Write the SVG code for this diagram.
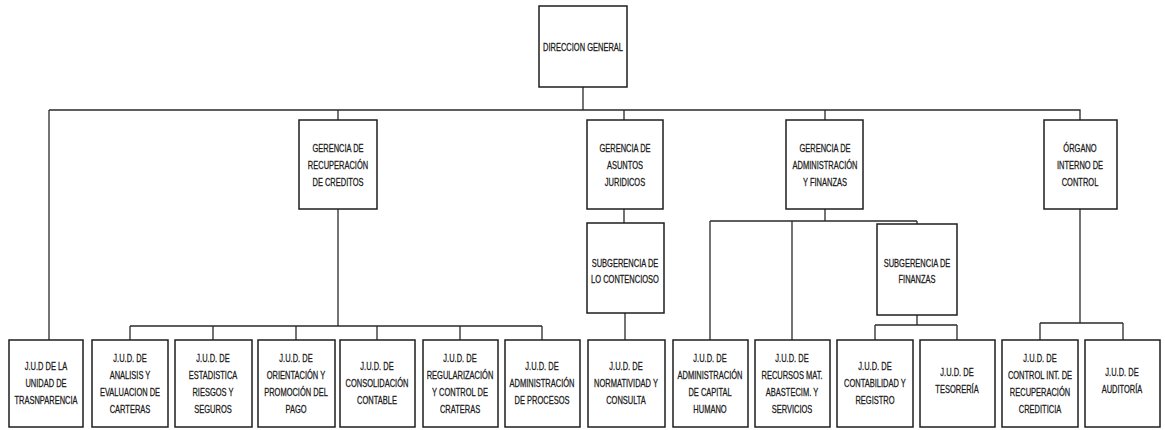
<svg xmlns="http://www.w3.org/2000/svg" width="1165" height="430" viewBox="0 0 1165 430">
<style>
rect{fill:#fff;stroke:#1e1e1e;stroke-width:1.5}
text{font-family:"Liberation Sans",Arial,sans-serif;font-size:10px;fill:#1a1a1a;stroke:#1a1a1a;stroke-width:0.25;text-anchor:middle}
#connectors path{fill:none;stroke:#2a2a2a;stroke-width:1.3}
</style>
<rect x="0" y="0" width="1165" height="430" style="stroke:none"/>
<g id="connectors">
<path d="M583,87V110M49,110H1080V120M49,110V340M338,110V120M624,110V120M825,110V120"/>
<path d="M338,209V326M130,326H542M130,326V340M213,326V340M296,326V340M377,326V340M460,326V340M542,326V340"/>
<path d="M624,209V223M625,313V340"/>
<path d="M825,209V221M710,221H917M710,221V340M792,221V340M917,221V224"/>
<path d="M917,315V325M875,325H957M875,325V340M957,325V340"/>
<path d="M1080,209V323M1040,323H1123M1040,323V340M1123,323V340"/>
</g>
<g id="direccion-general"><rect x="539" y="6" width="88" height="81"/><text transform="translate(583,51) scale(0.75,1)"><tspan x="0">DIRECCION GENERAL</tspan></text></g>
<g id="gerencia-recuperacion"><rect x="299" y="120" width="78" height="89"/><text transform="translate(338,0) scale(0.75,1)"><tspan x="0" y="152">GERENCIA DE</tspan><tspan x="0" y="169">RECUPERACIÓN</tspan><tspan x="0" y="186">DE CREDITOS</tspan></text></g>
<g id="gerencia-asuntos"><rect x="587" y="120" width="76" height="89"/><text transform="translate(625,0) scale(0.75,1)"><tspan x="0" y="152">GERENCIA DE</tspan><tspan x="0" y="169">ASUNTOS</tspan><tspan x="0" y="186">JURIDICOS</tspan></text></g>
<g id="gerencia-administracion"><rect x="786" y="120" width="77" height="89"/><text transform="translate(825,0) scale(0.75,1)"><tspan x="0" y="152">GERENCIA DE</tspan><tspan x="0" y="169">ADMINISTRACIÓN</tspan><tspan x="0" y="186">Y FINANZAS</tspan></text></g>
<g id="organo-interno"><rect x="1044" y="120" width="73" height="89"/><text transform="translate(1080,0) scale(0.75,1)"><tspan x="0" y="152">ÓRGANO</tspan><tspan x="0" y="169">INTERNO DE</tspan><tspan x="0" y="186">CONTROL</tspan></text></g>
<g id="subgerencia-contencioso"><rect x="587" y="223" width="77" height="90"/><text transform="translate(625,0) scale(0.75,1)"><tspan x="0" y="267">SUBGERENCIA DE</tspan><tspan x="0" y="283">LO CONTENCIOSO</tspan></text></g>
<g id="subgerencia-finanzas"><rect x="877" y="224" width="80" height="91"/><text transform="translate(917,0) scale(0.75,1)"><tspan x="0" y="267">SUBGERENCIA DE</tspan><tspan x="0" y="283">FINANZAS</tspan></text></g>
<g id="jud-transparencia"><rect x="9" y="340" width="74" height="87"/><text transform="translate(46,0) scale(0.75,1)"><tspan x="0" y="370">J.U.D DE LA</tspan><tspan x="0" y="387">UNIDAD DE</tspan><tspan x="0" y="404">TRASNPARENCIA</tspan></text></g>
<g id="jud-analisis"><rect x="92" y="340" width="76" height="87"/><text transform="translate(130,0) scale(0.75,1)"><tspan x="0" y="362">J.U.D. DE</tspan><tspan x="0" y="379">ANALISIS Y</tspan><tspan x="0" y="396">EVALUACION  DE</tspan><tspan x="0" y="413">CARTERAS</tspan></text></g>
<g id="jud-estadistica"><rect x="175" y="340" width="77" height="87"/><text transform="translate(213,0) scale(0.75,1)"><tspan x="0" y="362">J.U.D. DE</tspan><tspan x="0" y="379">ESTADISTICA</tspan><tspan x="0" y="396">RIESGOS Y</tspan><tspan x="0" y="413">SEGUROS</tspan></text></g>
<g id="jud-orientacion"><rect x="258" y="340" width="77" height="87"/><text transform="translate(296,0) scale(0.75,1)"><tspan x="0" y="362">J.U.D. DE</tspan><tspan x="0" y="379">ORIENTACIÓN Y</tspan><tspan x="0" y="396">PROMOCIÓN DEL</tspan><tspan x="0" y="413">PAGO</tspan></text></g>
<g id="jud-consolidacion"><rect x="340" y="340" width="75" height="87"/><text transform="translate(377,0) scale(0.75,1)"><tspan x="0" y="370">J.U.D. DE</tspan><tspan x="0" y="387">CONSOLIDACIÓN</tspan><tspan x="0" y="404">CONTABLE</tspan></text></g>
<g id="jud-regularizacion"><rect x="423" y="340" width="75" height="87"/><text transform="translate(460,0) scale(0.75,1)"><tspan x="0" y="362">J.U.D. DE</tspan><tspan x="0" y="379">REGULARIZACIÓN</tspan><tspan x="0" y="396">Y CONTROL DE</tspan><tspan x="0" y="413">CRATERAS</tspan></text></g>
<g id="jud-procesos"><rect x="505" y="340" width="75" height="87"/><text transform="translate(542,0) scale(0.75,1)"><tspan x="0" y="370">J.U.D. DE</tspan><tspan x="0" y="387">ADMINISTRACIÓN</tspan><tspan x="0" y="404">DE PROCESOS</tspan></text></g>
<g id="jud-normatividad"><rect x="588" y="340" width="77" height="87"/><text transform="translate(626,0) scale(0.75,1)"><tspan x="0" y="370">J.U.D. DE</tspan><tspan x="0" y="387">NORMATIVIDAD Y</tspan><tspan x="0" y="404">CONSULTA</tspan></text></g>
<g id="jud-capital-humano"><rect x="673" y="340" width="75" height="87"/><text transform="translate(710,0) scale(0.75,1)"><tspan x="0" y="362">J.U.D. DE</tspan><tspan x="0" y="379">ADMINISTRACIÓN</tspan><tspan x="0" y="396">DE CAPITAL</tspan><tspan x="0" y="413">HUMANO</tspan></text></g>
<g id="jud-recursos"><rect x="755" y="340" width="75" height="87"/><text transform="translate(792,0) scale(0.75,1)"><tspan x="0" y="362">J.U.D. DE</tspan><tspan x="0" y="379">RECURSOS MAT.</tspan><tspan x="0" y="396">ABASTECIM. Y</tspan><tspan x="0" y="413">SERVICIOS</tspan></text></g>
<g id="jud-contabilidad"><rect x="837" y="340" width="76" height="87"/><text transform="translate(875,0) scale(0.75,1)"><tspan x="0" y="370">J.U.D. DE</tspan><tspan x="0" y="387">CONTABILIDAD Y</tspan><tspan x="0" y="404">REGISTRO</tspan></text></g>
<g id="jud-tesoreria"><rect x="920" y="340" width="75" height="87"/><text transform="translate(957,0) scale(0.75,1)"><tspan x="0" y="376">J.U.D. DE</tspan><tspan x="0" y="393">TESORERÍA</tspan></text></g>
<g id="jud-control-int"><rect x="1002" y="340" width="76" height="87"/><text transform="translate(1040,0) scale(0.75,1)"><tspan x="0" y="362">J.U.D. DE</tspan><tspan x="0" y="379">CONTROL INT. DE</tspan><tspan x="0" y="396">RECUPERACIÓN</tspan><tspan x="0" y="413">CREDITICIA</tspan></text></g>
<g id="jud-auditoria"><rect x="1085" y="340" width="75" height="87"/><text transform="translate(1122,0) scale(0.75,1)"><tspan x="0" y="376">J.U.D. DE</tspan><tspan x="0" y="393">AUDITORÍA</tspan></text></g>
</svg>
